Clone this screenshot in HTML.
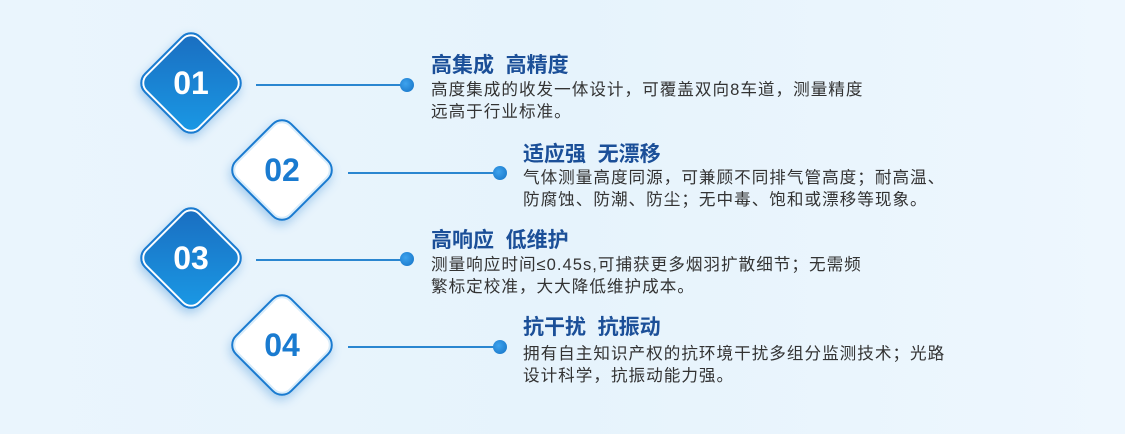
<!DOCTYPE html>
<html><head><meta charset="utf-8"><style>
html,body{margin:0;padding:0}
body{width:1125px;height:434px;position:relative;overflow:hidden;background:linear-gradient(90deg,#eaf5fd 0%,#e6f3fc 50%,#eef7fe 100%);font-family:"Liberation Sans","Noto Sans CJK SC",sans-serif}
.d{position:absolute;width:80px;height:80px;border-radius:14px;transform:rotate(45deg);box-sizing:border-box;border:2px solid #1a7bd0;box-shadow:2px 4px 10px rgba(40,130,210,.35)}
.d.b{background:linear-gradient(135deg,#1a6cbf,#1a9ae6);box-shadow:inset 0 0 0 2px #fff,2px 4px 10px rgba(40,130,210,.35)}
.d.w{background:#fff;box-shadow:inset 0 0 0 2px #d8ecfa,2px 4px 10px rgba(40,130,210,.35)}
.n{position:absolute;width:100px;text-align:center;font-size:32px;font-weight:bold;line-height:32px}
.l{position:absolute;height:2px;background:#2a86d0}
.dot{position:absolute;width:14px;height:14px;border-radius:50%;background:radial-gradient(circle at 40% 40%,#3ea3ee,#1471c4)}
.t{position:absolute;font-size:21px;font-weight:bold;color:#1b4f98;white-space:pre;line-height:22px}
.p{position:absolute;font-size:16.6px;color:#333;line-height:21.5px;letter-spacing:1px;white-space:pre}
</style></head><body>
<div class="d b" style="left:151px;top:43px"></div><div class="n" style="left:141px;top:67px;color:#fff">01</div>
<div class="d w" style="left:242px;top:130px"></div><div class="n" style="left:232px;top:154px;color:#1a7bd0">02</div>
<div class="d b" style="left:151px;top:218px"></div><div class="n" style="left:141px;top:242px;color:#fff">03</div>
<div class="d w" style="left:242px;top:305px"></div><div class="n" style="left:232px;top:329px;color:#1a7bd0">04</div>

<div class="l" style="left:256px;top:84px;width:150px"></div><div class="dot" style="left:400px;top:78px"></div>
<div class="l" style="left:348px;top:172px;width:150px"></div><div class="dot" style="left:493px;top:166px"></div>
<div class="l" style="left:256px;top:259px;width:150px"></div><div class="dot" style="left:400px;top:252px"></div>
<div class="l" style="left:348px;top:346px;width:150px"></div><div class="dot" style="left:493px;top:340px"></div>

<div class="t" style="left:431px;top:55px">高集成  高精度</div>
<div class="p" style="left:431px;top:79px">高度集成的收发一体设计，可覆盖双向8车道，测量精度
远高于行业标准。</div>
<div class="t" style="left:523px;top:144px">适应强  无漂移</div>
<div class="p" style="left:523px;top:167px">气体测量高度同源，可兼顾不同排气管高度；耐高温、
防腐蚀、防潮、防尘；无中毒、饱和或漂移等现象。</div>
<div class="t" style="left:431px;top:230px">高响应  低维护</div>
<div class="p" style="left:431px;top:254px">测量响应时间≤0.45s,可捕获更多烟羽扩散细节；无需频
繁标定校准，大大降低维护成本。</div>
<div class="t" style="left:523px;top:317px">抗干扰  抗振动</div>
<div class="p" style="left:523px;top:343px">拥有自主知识产权的抗环境干扰多组分监测技术；光路
设计科学，抗振动能力强。</div>
</body></html>
